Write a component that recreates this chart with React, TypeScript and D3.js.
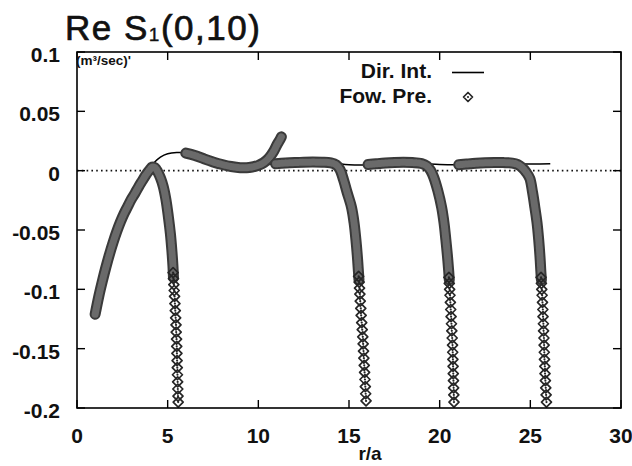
import React from "react";
import * as d3 from "d3";

// ---- data ----
const xTicks = [0, 5, 10, 15, 20, 25, 30];
const yTicks = [0.1, 0.05, 0, -0.05, -0.1, -0.15, -0.2];
const yTickLabels = ["0.1", "0.05", "0", "-0.05", "-0.1", "-0.15", "-0.2"];

// Direct integration (solid line)
const dirInt: [number, number][] = [
  [1.0, -0.121], [1.5, -0.087], [2.0, -0.06], [2.5, -0.04], [3.0, -0.024], [3.5, -0.011],
  [4.0, 0.0015], [4.3, 0.0075], [4.6, 0.0115], [5.0, 0.0143], [5.5, 0.0153], [6.0, 0.015],
  [6.5, 0.013], [7.0, 0.0102], [8.0, 0.0058], [9.0, 0.004], [10.0, 0.0045], [11.0, 0.0058],
  [12.0, 0.0066], [13.0, 0.007], [14.0, 0.0066], [15.0, 0.005], [16.0, 0.0048], [17.0, 0.0058],
  [18.0, 0.0064], [19.0, 0.006], [20.0, 0.0052], [21.0, 0.005], [22.0, 0.0058], [23.0, 0.0062],
  [24.0, 0.006], [25.0, 0.0056], [26.1, 0.0058],
];

// Forward prediction: dense (overlapping) parts of each run
const fowA: [number, number][] = [
  [1.0, -0.121], [1.2, -0.106], [1.4, -0.093], [1.6, -0.081], [1.8, -0.07], [2.0, -0.06],
  [2.2, -0.051], [2.4, -0.043], [2.6, -0.036], [2.8, -0.03], [3.0, -0.024], [3.2, -0.019],
  [3.4, -0.0135], [3.6, -0.0085], [3.8, -0.0035], [4.0, 0.0005], [4.15, 0.003], [4.3, 0.0025],
  [4.45, -0.001], [4.6, -0.006], [4.75, -0.013], [4.9, -0.024], [5.04, -0.039], [5.15, -0.053],
  [5.23, -0.067], [5.29, -0.08], [5.32, -0.09],
];
const fowB: [number, number][] = [
  [6.0, 0.0148], [6.5, 0.0128], [7.0, 0.01], [7.5, 0.0074], [8.0, 0.0052], [8.5, 0.0035],
  [9.0, 0.0025], [9.5, 0.0027], [10.0, 0.0045], [10.3, 0.0068], [10.6, 0.011], [10.85, 0.0165],
  [11.05, 0.0225], [11.17, 0.0255], [11.27, 0.0285],
];
const fowC: [number, number][] = [
  [10.95, 0.0058], [11.5, 0.0064], [12.0, 0.0068], [12.5, 0.0071], [13.0, 0.0072], [13.5, 0.0071],
  [14.0, 0.0066], [14.3, 0.0048], [14.5, 0.001], [14.7, -0.0078], [14.9, -0.0185], [15.14, -0.031],
  [15.28, -0.044], [15.38, -0.058], [15.46, -0.072], [15.52, -0.085], [15.55, -0.092],
];
const fowD: [number, number][] = [
  [16.05, 0.0052], [16.5, 0.0058], [17.0, 0.0064], [17.5, 0.0068], [18.0, 0.007], [18.5, 0.0068],
  [19.0, 0.006], [19.3, 0.0038], [19.5, 0.0002], [19.67, -0.0055], [19.9, -0.017], [20.11, -0.031],
  [20.24, -0.044], [20.34, -0.058], [20.43, -0.072], [20.5, -0.085], [20.53, -0.092],
];
const fowE: [number, number][] = [
  [21.05, 0.005], [21.5, 0.0056], [22.0, 0.0062], [22.5, 0.0066], [23.0, 0.0068], [23.5, 0.0068],
  [24.0, 0.0064], [24.3, 0.0052], [24.55, 0.0025], [24.78, -0.0015], [24.97, -0.0065], [25.12, -0.018],
  [25.25, -0.031], [25.37, -0.044], [25.46, -0.058], [25.53, -0.072], [25.58, -0.085], [25.61, -0.092],
];

// Forward prediction: individually visible markers on the falling tails
const tailA: [number, number][] = [
  [5.3, -0.086], [5.32, -0.091], [5.34, -0.096], [5.36, -0.101], [5.38, -0.106], [5.4, -0.112],
  [5.42, -0.118], [5.44, -0.124], [5.46, -0.13], [5.47, -0.136], [5.49, -0.142], [5.5, -0.148],
  [5.51, -0.154], [5.52, -0.16], [5.53, -0.166], [5.54, -0.172], [5.55, -0.178], [5.56, -0.184],
  [5.57, -0.19], [5.58, -0.195],
];
const tailC: [number, number][] = [
  [15.53, -0.089], [15.56, -0.094], [15.58, -0.099], [15.6, -0.104], [15.62, -0.11], [15.65, -0.116],
  [15.67, -0.122], [15.7, -0.128], [15.73, -0.134], [15.76, -0.14], [15.78, -0.146], [15.8, -0.152],
  [15.82, -0.158], [15.84, -0.164], [15.86, -0.17], [15.88, -0.176], [15.9, -0.182], [15.92, -0.188],
  [15.94, -0.194],
];
const tailD: [number, number][] = [
  [20.51, -0.09], [20.53, -0.095], [20.55, -0.1], [20.57, -0.105], [20.59, -0.111], [20.61, -0.117],
  [20.63, -0.123], [20.65, -0.129], [20.67, -0.135], [20.69, -0.141], [20.71, -0.147], [20.72, -0.153],
  [20.73, -0.159], [20.74, -0.165], [20.75, -0.171], [20.76, -0.177], [20.77, -0.183], [20.78, -0.189],
  [20.79, -0.195],
];
const tailE: [number, number][] = [
  [25.59, -0.09], [25.61, -0.095], [25.63, -0.1], [25.65, -0.105], [25.67, -0.111], [25.69, -0.117],
  [25.7, -0.123], [25.72, -0.129], [25.73, -0.135], [25.75, -0.141], [25.76, -0.147], [25.77, -0.153],
  [25.78, -0.159], [25.8, -0.165], [25.81, -0.171], [25.83, -0.177], [25.85, -0.183], [25.87, -0.189],
  [25.89, -0.195],
];

const bands = [fowA, fowB, fowC, fowD, fowE];
const tails = [tailA, tailC, tailD, tailE];

const W = 632;
const H = 466;
const FONT = "'Liberation Sans', Arial, sans-serif";

function Diamond({ cx, cy, s = 5 }: { cx: number; cy: number; s?: number }) {
  return (
    <g>
      <path
        d={`M${cx},${cy - s}L${cx + s},${cy}L${cx},${cy + s}L${cx - s},${cy}Z`}
        fill="none"
        stroke="#262626"
        strokeWidth={1.7}
        strokeLinejoin="round"
      />
      <circle cx={cx} cy={cy} r={1.1} fill="#262626" />
    </g>
  );
}

export default function App() {
  const x = d3.scaleLinear().domain([0, 30]).range([77, 621]);
  const y = d3.scaleLinear().domain([-0.2, 0.1]).range([408, 52]);
  const [x0, x1] = x.range();
  const [y0, y1] = [y(0.1), y(-0.2)];

  const line = d3
    .line<[number, number]>()
    .x((d) => x(d[0]))
    .y((d) => y(d[1]))
    .curve(d3.curveCatmullRom.alpha(0.5));

  const tickLen = 8;

  return (
    <svg
      width={W}
      height={H}
      viewBox={`0 0 ${W} ${H}`}
      style={{ position: "absolute", left: 0, top: 0, background: "#fff" }}
    >
      <rect x={0} y={0} width={W} height={H} fill="#fff" />

      {/* zero line */}
      <line
        x1={x0}
        x2={x1}
        y1={y(0)}
        y2={y(0)}
        stroke="#111"
        strokeWidth={1.6}
        strokeDasharray="1.6,3.2"
      />

      {/* Dir. Int. */}
      <path d={line(dirInt) ?? ""} fill="none" stroke="#000" strokeWidth={1.5} />

      {/* Fow. Pre. dense runs */}
      {bands.map((b, i) => (
        <g key={i}>
          <path
            d={line(b) ?? ""}
            fill="none"
            stroke="#3a3a3a"
            strokeWidth={11}
            strokeLinecap="round"
            strokeLinejoin="round"
          />
          <path
            d={line(b) ?? ""}
            fill="none"
            stroke="#6a6a6a"
            strokeWidth={7}
            strokeLinecap="round"
            strokeLinejoin="round"
            strokeDasharray="2,1.5"
          />
        </g>
      ))}
      {/* Fow. Pre. tail markers */}
      {tails.map((t, i) => (
        <g key={i}>
          {t.map((d, j) => (
            <Diamond key={j} cx={x(d[0])} cy={y(d[1])} />
          ))}
        </g>
      ))}

      {/* frame */}
      <rect x={x0} y={y0} width={x1 - x0} height={y1 - y0} fill="none" stroke="#000" strokeWidth={1.6} />

      {/* ticks */}
      {xTicks.map((t) => (
        <g key={"xt" + t}>
          <line x1={x(t)} x2={x(t)} y1={y1} y2={y1 - tickLen} stroke="#000" strokeWidth={1.4} />
          <line x1={x(t)} x2={x(t)} y1={y0} y2={y0 + tickLen} stroke="#000" strokeWidth={1.4} />
          <text
            x={x(t)}
            y={443}
            textAnchor="middle"
            fontFamily={FONT}
            fontWeight={700}
            fontSize={21}
            fill="#111"
          >
            {t}
          </text>
        </g>
      ))}
      {yTicks.map((t, i) => (
        <g key={"yt" + t}>
          <line x1={x0} x2={x0 + tickLen} y1={y(t)} y2={y(t)} stroke="#000" strokeWidth={1.4} />
          <line x1={x1} x2={x1 - tickLen} y1={y(t)} y2={y(t)} stroke="#000" strokeWidth={1.4} />
          <text
            x={60}
            y={y(t) + 10}
            textAnchor="end"
            fontFamily={FONT}
            fontWeight={700}
            fontSize={21}
            fill="#111"
          >
            {yTickLabels[i]}
          </text>
        </g>
      ))}

      {/* x label */}
      <text x={370} y={460} textAnchor="middle" fontFamily={FONT} fontWeight={700} fontSize={19} fill="#111">
        r/a
      </text>

      {/* title */}
      <text
        x={65}
        y={40}
        fontFamily={FONT}
        fontSize={35}
        fill="#111"
        stroke="#111"
        strokeWidth={0.7}
        letterSpacing={1.5}
      >
        <tspan>Re S</tspan>
        <tspan fontSize={19} strokeWidth={0.4} dy={1}>1</tspan>
        <tspan dy={-1}>(0,10)</tspan>
      </text>

      {/* unit */}
      <text x={76} y={65} fontFamily={FONT} fontWeight={700} fontSize={13.5} fill="#111">
        (m³/sec)'
      </text>

      {/* legend */}
      <text x={432} y={78} textAnchor="end" fontFamily={FONT} fontWeight={700} fontSize={21} fill="#111">
        Dir. Int.
      </text>
      <line x1={452} x2={484} y1={72.5} y2={72.5} stroke="#000" strokeWidth={1.6} />
      <text x={432} y={103} textAnchor="end" fontFamily={FONT} fontWeight={700} fontSize={21} fill="#111">
        Fow. Pre.
      </text>
      <Diamond cx={468} cy={97} s={4.5} />
    </svg>
  );
}
